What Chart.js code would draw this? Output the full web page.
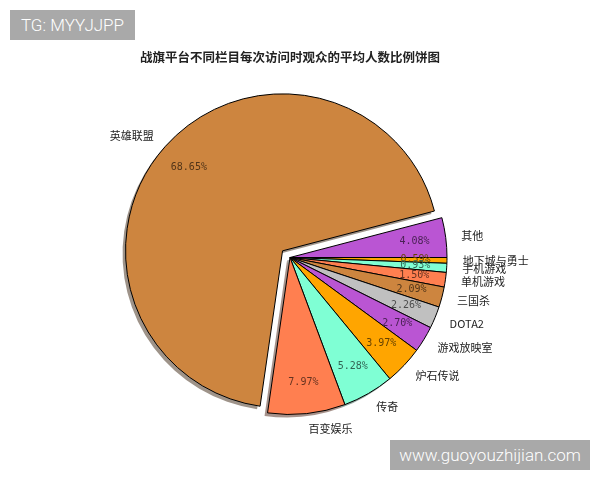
<!DOCTYPE html>
<html>
<head>
<meta charset="utf-8">
<script src="https://cdn.jsdelivr.net/npm/chart.js@4.4.0/dist/chart.umd.min.js"></script>
<style>
  html, body { margin: 0; padding: 0; background: #fff; }
  #wrap { position: relative; width: 600px; height: 480px; }
  .mark { position: absolute; background: #a9a9a9; color: #fff; text-align: center;
          font-family: Roboto, "Liberation Sans", sans-serif; font-weight: 300;
          font-size: 17px; line-height: 30px; height: 30px; }
</style>
</head>
<body>
<div id="wrap">
  <canvas id="pieChart" width="600" height="480"></canvas>
  <div class="mark" style="left:10px;top:10px;width:125px;">TG: MYYJJPP</div>
  <div class="mark" style="left:390px;top:440px;width:200px;">www.guoyouzhijian.com</div>
</div>
<script>
// slices listed clockwise starting at 3 o'clock
let labels = ['地下城与勇士', '手机游戏', '单机游戏', '三国杀', 'DOTA2', '游戏放映室', '炉石传说', '传奇', '百变娱乐', '英雄联盟', '其他'];
let shares = [0.59, 0.93, 1.50, 2.09, 2.26, 2.70, 3.97, 5.28, 7.97, 68.65, 4.08];
let colorHex = ['#FFA500', '#7FFFD4', '#FF7F50', '#CD853F', '#C0C0C0', '#BA55D3', '#FFA500', '#7FFFD4', '#FF7F50', '#CD853F', '#BA55D3'];

const titleText = '战旗平台不同栏目每次访问时观众的平均人数比例饼图';
const explodeIdx = labels.indexOf('英雄联盟');
const explodePx = 10;

function rgb(hex) {
  let n = parseInt(hex.slice(1), 16);
  return [(n >> 16) & 255, (n >> 8) & 255, n & 255];
}

const piePlugin = {
  id: 'pieExtras',
  afterDatasetsUpdate(chart) {
    // pull the big slice out
    let arc = chart.getDatasetMeta(0).data[explodeIdx];
    let mid = (arc.startAngle + arc.endAngle) / 2;
    arc.x += Math.cos(mid) * explodePx;
    arc.y += Math.sin(mid) * explodePx;
  },
  beforeDatasetsDraw(chart) {
    let ctx = chart.ctx;
    chart.getDatasetMeta(0).data.forEach((arc, i) => {
      let c = rgb(colorHex[i]);
      ctx.save();
      ctx.fillStyle = `rgba(${c[0] * 0.3},${c[1] * 0.3},${c[2] * 0.3},0.5)`;
      ctx.beginPath();
      ctx.moveTo(arc.x - 3, arc.y + 3);
      ctx.arc(arc.x - 3, arc.y + 3, arc.outerRadius, arc.startAngle, arc.endAngle);
      ctx.closePath();
      ctx.fill();
      ctx.restore();
    });
  },
  afterDatasetsDraw(chart) {
    let ctx = chart.ctx;
    ctx.save();
    chart.getDatasetMeta(0).data.forEach((arc, i) => {
      let mid = (arc.startAngle + arc.endAngle) / 2;
      let cs = Math.cos(mid), sn = Math.sin(mid);
      let r = arc.outerRadius;
      ctx.textBaseline = 'middle';
      ctx.font = '11px "Noto Sans CJK SC"';
      ctx.fillStyle = '#222';
      ctx.textAlign = cs > 0 ? 'left' : 'right';
      ctx.fillText(labels[i], arc.x + cs * r * 1.1, arc.y + sn * r * 1.1);
      let c = rgb(colorHex[i]);
      ctx.fillStyle = `rgb(${c[0] * 0.4},${c[1] * 0.4},${c[2] * 0.4})`;
      ctx.font = '10px "DejaVu Sans Mono"';
      ctx.textAlign = 'center';
      ctx.fillText(shares[i].toFixed(2) + '%', arc.x + cs * r * 0.8, arc.y + sn * r * 0.8);
    });
    ctx.fillStyle = '#222';
    ctx.font = 'bold 12.5px "Noto Sans CJK SC"';
    ctx.textAlign = 'center';
    ctx.fillText(titleText, 290, 57);
    ctx.restore();
  }
};

let ctx = document.getElementById('pieChart').getContext('2d');
let myChart = new Chart(ctx, {
  type: 'pie',
  data: {
    labels: labels,
    datasets: [{
      data: shares,
      backgroundColor: colorHex,
      borderColor: '#000',
      borderWidth: 1
    }]
  },
  options: {
    responsive: false,
    animation: false,
    rotation: 90,
    layout: { padding: { left: 100, right: 120, top: 100, bottom: 65 } },
    plugins: {
      legend: { display: false },
      tooltip: { enabled: false }
    }
  },
  plugins: [piePlugin]
});
</script>
</body>
</html>
